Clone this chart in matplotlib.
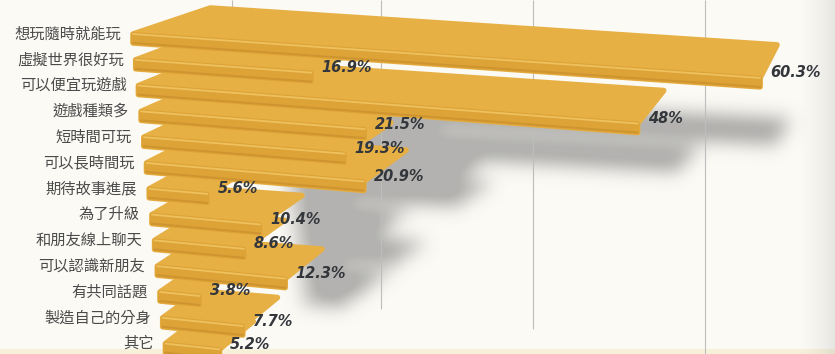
import numpy as np
import matplotlib
matplotlib.use("Agg")
import matplotlib.pyplot as plt
from matplotlib.patches import Polygon
from matplotlib.path import Path

plt.rcParams["font.family"] = ["Noto Sans CJK TC", "DejaVu Sans"]

# Data
reasons = ["想玩隨時就能玩", "虛擬世界很好玩", "可以便宜玩遊戲", "遊戲種類多", "短時間可玩",
           "可以長時間玩", "期待故事進展", "為了升級", "和朋友線上聊天", "可以認識新朋友",
           "有共同話題", "製造自己的分身", "其它"]
shares = [60.3, 16.9, 48.0, 21.5, 19.3, 20.9, 5.6, 10.4, 8.6, 12.3, 3.8, 7.7, 5.2]

# decorative guide lines (in %), and the row where each one stops
grid_at = [9.5, 23.8, 38.5, 55.0]
grid_stop = [1.0, 10.3, 11.1, 12.1]

# Layout of the fake 3D view (pixel units, converted to data below)
W, H = 835, 354
X0, Y0 = 133.0, 43.0      # bottom-left corner of the first bar
PX_PER_PCT = 10.4
ROW = 25.8
STEP = 2.7                # each row starts a little more to the right
FRONT = 9.0               # front face thickness
VP = np.array([918.0, -230.0])   # vanishing point of the bar ends

BG = "#fbfaf5"
TOP_C = "#e7b044"
FRONT_C = "#dea337"
HILITE_C = "#efc562"
EDGE_C = "#c38a2a"
TEXT_C = "#4b4b4b"
VALUE_C = "#33363b"


def to_data(pts):
    pts = np.asarray(pts, float)
    return np.column_stack([(pts[:, 0] - X0) / PX_PER_PCT, (pts[:, 1] - Y0) / ROW])


def depth(x):
    return 26 + 7 * min(1.0, (x - X0) / 300.0)


def cap(x, y):
    # end of the slab recedes towards the vanishing point
    d = depth(x)
    t = d / (y - VP[1])
    return (x + t * (VP[0] - x), y - d)


def bar_shape(i, v):
    xl = X0 + STEP * i
    yl = Y0 + ROW * i
    xr = xl + PX_PER_PCT * v
    yr = yl + (0.070 + 0.003 * i) * (xr - xl)
    bl, br = (xl, yl), (xr, yr)
    blt, brt = (xl, yl - FRONT), (xr, yr - FRONT)
    tr, tl = cap(*brt), cap(*blt)
    return bl, br, brt, tr, tl, blt


def gauss_blur(img, s):
    r = np.arange(-int(3 * s), int(3 * s) + 1)
    k = np.exp(-0.5 * (r / s) ** 2)
    k /= k.sum()
    img = np.apply_along_axis(lambda m: np.convolve(m, k, "same"), 1, img)
    return np.apply_along_axis(lambda m: np.convolve(m, k, "same"), 0, img)


fig = plt.figure(figsize=(8.35, 3.54), dpi=100, facecolor=BG)
ax = fig.add_axes([0, 0, 1, 1])
ax.set_facecolor(BG)
x_lo, x_hi = (0 - X0) / PX_PER_PCT, (W - X0) / PX_PER_PCT
y_top, y_bot = (0 - Y0) / ROW, (H - Y0) / ROW
ax.set_xlim(x_lo, x_hi)
ax.set_ylim(y_bot, y_top)
ax.axis("off")

# soft shadows cast down/right by the bars
yy, xx = np.mgrid[0:H, 0:W] + 0.5
grid_pts = np.column_stack([xx.ravel(), yy.ravel()])
mask = np.zeros(H * W, bool)
for i, v in enumerate(shares):
    sil = np.array(bar_shape(i, v))
    sh = np.column_stack([170 + 0.8 * sil[:, 0], 92 + 0.6 * sil[:, 1]])
    mask |= Path(sh).contains_points(grid_pts)
mask = mask.reshape(H, W).astype(float)
blur = gauss_blur(mask, 9.0)
shadow = np.zeros((H, W, 4))
shadow[..., :3] = 0.42
shadow[..., 3] = 0.5 * np.clip(blur * 1.2, 0, 1)
ax.imshow(shadow, extent=(x_lo, x_hi, y_bot, y_top), origin="upper",
          aspect="auto", zorder=1, interpolation="bilinear")

# page shading on the right edge and pale strip at the bottom
grad = np.zeros((1, 40, 4))
grad[..., :3] = 0.55
grad[..., 3] = np.linspace(0, 0.18, 40) ** 1.5 / 0.18 ** 0.5
ax.imshow(grad, extent=((795 - X0) / PX_PER_PCT, x_hi, y_bot, y_top),
          aspect="auto", zorder=1.2)
ax.axhspan((349 - Y0) / ROW, y_bot, color="#f7f1da", zorder=1.1, lw=0)

for g, stop in zip(grid_at, grid_stop):
    ax.vlines(g, y_top, stop, color="#bdbdbd", lw=0.8, zorder=1.5)

# bars, lower rows first so upper bars sit in front
n = len(shares)
for i in range(n - 1, -1, -1):
    v = shares[i]
    bl, br, brt, tr, tl, blt = bar_shape(i, v)
    z = 2 + (n - i) * 0.1
    sil = to_data([bl, br, brt, tr, tl, blt])
    ax.add_patch(Polygon(sil, closed=True, fc=TOP_C, ec=TOP_C, lw=4,
                         joinstyle="round", zorder=z))
    front = to_data([bl, br, brt, blt])
    ax.add_patch(Polygon(front, closed=True, fc=FRONT_C, ec=FRONT_C, lw=3,
                         joinstyle="round", zorder=z + 0.01))
    ln = to_data([blt, brt])
    ax.plot(ln[:, 0], ln[:, 1], color=HILITE_C, lw=1.3, zorder=z + 0.02,
            solid_capstyle="round", alpha=0.9)
    ln = to_data([bl, br])
    ax.plot(ln[:, 0], ln[:, 1], color=EDGE_C, lw=1.4, zorder=z + 0.02,
            solid_capstyle="round", alpha=0.6)

    # category label left of the bar
    lab = to_data([(bl[0] - 12, bl[1] - 9)])[0]
    ax.text(lab[0], lab[1], reasons[i], ha="right", va="center",
            fontsize=11, color=TEXT_C, zorder=10)

    # value label next to the bar end
    val = to_data([(br[0] + 10, br[1] - 14)])[0]
    ax.text(val[0], val[1], f"{v:g}%", ha="left", va="center",
            fontsize=10.5, fontweight="heavy", fontstyle="italic",
            family="DejaVu Sans", color=VALUE_C, zorder=10)

fig.savefig("out.png", dpi=100, facecolor=BG)
